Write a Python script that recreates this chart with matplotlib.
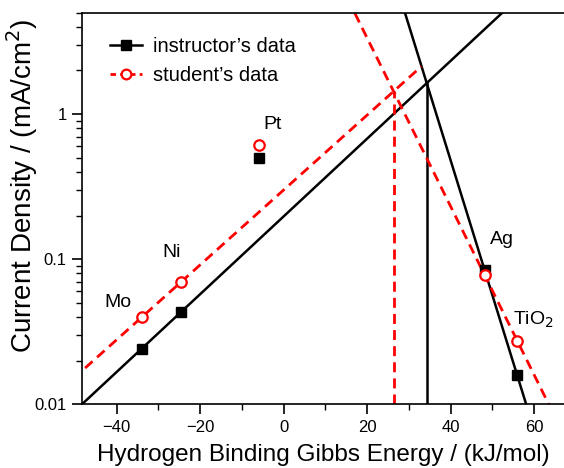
import numpy as np
import matplotlib
matplotlib.use("Agg")
import matplotlib.pyplot as plt
from matplotlib.ticker import FixedLocator, FixedFormatter, LogLocator, NullFormatter, MultipleLocator
from matplotlib.lines import Line2D

plt.rcParams['font.family'] = ['Liberation Sans', 'DejaVu Sans']

# Data
materials = ["Mo", "Ni", "Pt", "Ag", "TiO$_2$"]
energy = [-34.0, -24.5, -6.0, 48.1, 55.9]
instructor = [0.0242, 0.0435, 0.50, 0.0844, 0.0159]
student = [0.0398, 0.070, 0.61, 0.078, 0.0275]
label_x = [-39.7, -26.8, -2.6, 52.3, 59.8]
label_y = [0.05, 0.112, 0.843, 0.136, 0.038]
red_asc_end = 33.0
xmin, xmax = -48.3, 70.0
ymin, ymax = 0.01, 5.0

fig = plt.figure(figsize=(5.64, 4.68), dpi=100)
ax = fig.add_axes([0.1454, 0.1361, 0.8759, 0.8368])
ax.set_yscale('log')
ax.set_xlim(xmin, xmax)
ax.set_ylim(ymin, ymax)

def fit(xs, ys):
    s, b = np.polyfit(xs, np.log10(ys), 1)
    return s, b

def draw_volcano(vals, style, asc_end):
    e = np.array(energy); v = np.array(vals)
    s1, b1 = fit(e[:2], v[:2])
    s2, b2 = fit(e[3:], v[3:])
    xi = (b2 - b1) / (s1 - s2)
    yi = 10 ** (s1 * xi + b1)
    xa = np.array([xmin - 5, asc_end])
    ax.plot(xa, 10 ** (s1 * xa + b1), zorder=2, **style)
    xd = np.array([0, xmax + 5])
    ax.plot(xd, 10 ** (s2 * xd + b2), zorder=2, **style)
    ax.plot([xi, xi], [ymin, yi], zorder=2, **style)

black_style = dict(color='black', lw=1.8, ls='-')
red_style = dict(color='#ff0000', lw=2.0, ls='--', dashes=(3.6, 2.2))
draw_volcano(instructor, black_style, 80)
draw_volcano(student, red_style, red_asc_end)

ax.plot(energy, instructor, ls='none', marker='s', ms=7, mfc='black', mec='black', zorder=3)
ax.plot(energy, student, ls='none', marker='o', ms=7.5, mfc='white', mec='#ff0000', mew=1.6, zorder=4)

for name, lx, ly in zip(materials, label_x, label_y):
    ax.text(lx, ly, name, fontsize=14, ha='center', va='center')

h1 = Line2D([], [], color='black', lw=1.8, marker='s', ms=7)
h2 = Line2D([], [], color='#ff0000', lw=2.0, ls='--', dashes=(2.0, 1.5), marker='o', ms=7,
            mfc='white', mew=1.6)
leg = ax.legend([h1, h2], ["instructor\u2019s data", "student\u2019s data"], loc='upper left',
                bbox_to_anchor=(0.02, 0.985), frameon=False, fontsize=14.5, handlelength=1.6,
                handletextpad=0.55, labelspacing=0.5)

ax.xaxis.set_major_locator(MultipleLocator(20))
ax.xaxis.set_minor_locator(MultipleLocator(10))
ax.yaxis.set_major_locator(FixedLocator([0.01, 0.1, 1]))
ax.yaxis.set_major_formatter(FixedFormatter(["0.01", "0.1", "1"]))
ax.yaxis.set_minor_locator(LogLocator(base=10, subs=np.arange(2, 10)))
ax.yaxis.set_minor_formatter(NullFormatter())
ax.tick_params(which='major', direction='out', length=7, width=1.2, labelsize=12, pad=4)
ax.tick_params(which='minor', direction='out', length=4, width=1.0)
for sp in ax.spines.values():
    sp.set_linewidth(1.2)

fig.text(323 / 564, 1 - 455 / 468, "Hydrogen Binding Gibbs Energy / (kJ/mol)", fontsize=17.5,
         ha='center', va='center')
fig.text(22 / 564, 1 - 186 / 468, "Current Density / (mA/cm$^2$)", fontsize=20,
         ha='center', va='center', rotation=90)

fig.savefig("out.png", dpi=100)
